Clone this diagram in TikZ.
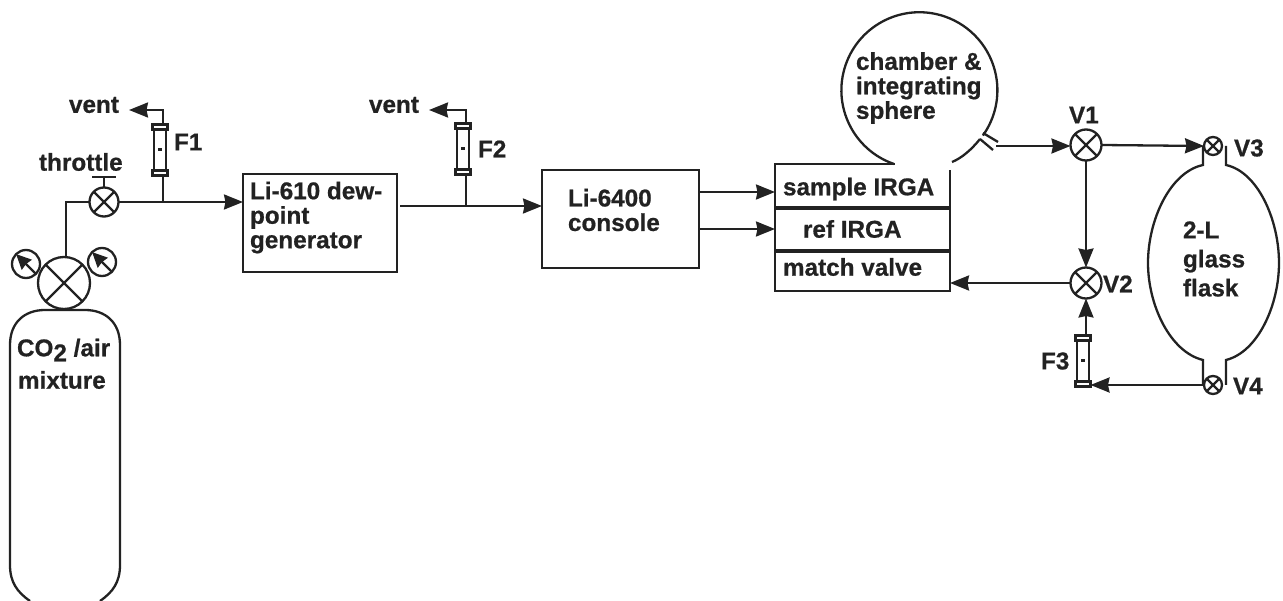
\documentclass[tikz,border=0pt]{standalone}
\usepackage{fontspec}
\setmainfont[BoldFeatures={FakeBold=0.7}]{Liberation Sans}
\usetikzlibrary{arrows.meta,positioning}
\definecolor{ink}{HTML}{222222}
\tikzset{
  x=1pt,y=-1pt,
  line/.style={draw=ink,line width=2.3pt},
  flow/.style={line,-{Stealth[length=19pt,width=15pt,inset=1.5pt]}},
  lab/.style={inner sep=0pt,outer sep=0pt,anchor=west,text=ink,font=\bfseries\fontsize{24.3}{24.5}\selectfont,align=left},
  box/.style={draw=ink,line width=2.3pt,inner sep=0pt,outer sep=0pt,minimum width=#1},
  valve/.style={circle,draw=ink,line width=2.3pt,inner sep=0pt,outer sep=0pt,minimum size=#1,
    path picture={\draw[ink,line width=2.3pt] (path picture bounding box.south west)--(path picture bounding box.north east)
      (path picture bounding box.north west)--(path picture bounding box.south east);}},
  tube/.style={draw=ink,line width=2.3pt,inner sep=0pt,outer sep=0pt,minimum width=12pt,minimum height=48pt},
  capbar/.style={draw=ink,line width=2.3pt,fill=white,inner sep=0pt,outer sep=0pt,minimum width=15pt,minimum height=5pt},
  gauge/.style={circle,draw=ink,line width=2.3pt,inner sep=0pt,outer sep=0pt,minimum size=28pt},
}
\newcommand{\flowmeter}[3]{% name, x, y centre
  \node[tube] (#1) at (#2,#3) {};
  \node[capbar] (#1top) at (#2,#3-23) {};
  \node[capbar] (#1bot) at (#2,#3+23) {};
  \fill[ink] (#2-2,#3-1.5) rectangle (#2+2,#3+1.5);
}
\begin{document}
\begin{tikzpicture}
\useasboundingbox (0,0) rectangle (1283,601);
% cylinder
\draw[line] (30,601) .. controls (17,592) and (10,582) .. (10,565) -- (10,345) .. controls (10,322) and (25,310) .. (45,310) -- (85,310) .. controls (105,310) and (120,322) .. (120,345) -- (120,565) .. controls (120,582) and (113,592) .. (100,601);
\node[lab] (co2) at (17,350) {CO\raisebox{-5pt}{2} /air};
\node[lab] (mix) at (18,380) {mixture};
% regulator
\node[valve=52pt] (reg) at (64,283) {};
\node[gauge] (g1) at (26,264) {};
\node[gauge] (g2) at (102,262) {};
\draw[line,-{Stealth[length=15pt,width=14pt,inset=1pt]}] (g1.south east) -- (g1.north west);
\draw[line,-{Stealth[length=15pt,width=14pt,inset=1pt]}] (g2.south east) -- (g2.north west);
% throttle
\node[valve=29pt] (thr) at (104,202) {};
\coordinate (thrtop) at (104,177);
\draw[line] (thr.north) -- (thrtop);
\draw[line] (92,177) -- (116,177);
\node[lab] (thrl) at (39,162) {throttle};
\coordinate (elbow) at (66,202);
\draw[line] (reg.north -| elbow) -- (elbow) -- (thr.west);
% F1
\flowmeter{Fam}{160}{150}
\node[lab] (F1) at (174,142) {F1};
\node[lab] (vent1) at (69,105) {vent};
\coordinate (j1) at (163,202);
\coordinate (c1) at (163,110);
\coordinate (e1) at (129,110);
\draw[line] (j1) -- (Fambot.south -| j1);
\draw[flow] (Famtop.north -| c1) -- (c1) -- (e1);
% Li-610
\node[box=154pt,minimum height=98pt] (li610) at (320,223) {};
\node[lab] (li610t) at (250,217.5) {Li-610 dew-\\point\\generator};
\draw[flow] (thr.east) -- (li610.west |- thr);
% F2
\flowmeter{Fbm}{463}{149}
\node[lab] (F2) at (478,149) {F2};
\node[lab] (vent2) at (369,105) {vent};
\coordinate (j2) at (466,206);
\coordinate (c2) at (466,110);
\coordinate (e2) at (429,110);
\coordinate (o2) at (400,206);
\draw[line] (j2) -- (Fbmbot.south -| j2);
\draw[flow] (Fbmtop.north -| c2) -- (c2) -- (e2);
% Li-6400
\node[box=157pt,minimum height=98pt] (li64) at (620.5,219) {};
\node[lab] (li64t) at (568,210) {Li-6400\\console};
\draw[flow] (o2) -- (li64.west |- o2);
% stack
\node[box=175pt,minimum height=44pt] (samp) at (862.5,186) {};
\node[box=175pt,minimum height=43pt] (refi) at (862.5,229.5) {};
\node[box=175pt,minimum height=40pt] (mv) at (862.5,271) {};
\node[lab] (sampt) at (783,189) {sample IRGA};
\node[lab] (refit) at (803,229) {ref IRGA};
\node[lab] (mvt) at (783,267) {match valve};
\fill[white] (895,160) rectangle (953,170);
\draw[line] (950,171) -- (950,208);
\draw[ink,line width=3.5pt] (775,208) -- (950,208) (775,251) -- (950,251);
\coordinate (a1) at (699,192);
\coordinate (a2) at (699,229);
\draw[flow] (a1) -- (samp.west |- a1);
\draw[flow] (a2) -- (refi.west |- a2);
% chamber
\draw[line] (894,164) arc[start angle=109,end angle=395.5,radius=78];
\draw[line] (952,162) .. controls (962,158) and (972,149) .. (980,139);
\draw[line] (983,133) -- (998,142);
\draw[line] (980,139) -- (993,150);
\node[lab] (chamt) at (856,88) {chamber \&\\integrating\\sphere};
\coordinate (chout) at (996,146);
% valves
\node[valve=31pt] (V1v) at (1086,145) {};
\node[valve=31pt] (V2v) at (1086,283) {};
\node[valve=18pt] (V3v) at (1213,146) {};
\node[valve=18pt] (V4v) at (1213,385) {};
\node[lab] (V1) at (1069,115) {V1};
\node[lab] (V2) at (1103,284) {V2};
\node[lab] (V3) at (1234,148) {V3};
\node[lab] (V4) at (1233,386) {V4};
\draw[flow] (chout) -- (V1v.west |- chout);
\draw[flow] (V1v.east) -- (V3v.west);
\draw[flow] (V1v.south) -- (V2v.north);
\draw[flow] (V2v.west) -- (950,283);
% flask
\draw[line] (1203,146) -- (1203,165) .. controls (1170,172) and (1148,220) .. (1148,263) .. controls (1148,305) and (1170,352) .. (1203,360) -- (1203,385);
\draw[line] (1226,146) -- (1226,165) .. controls (1258,172) and (1279,220) .. (1279,263) .. controls (1279,305) and (1258,352) .. (1226,360) -- (1226,385);
\node[lab] (flt) at (1183,259) {2-L\\[4.5pt]glass\\[4.5pt]flask};
% F3
\flowmeter{Fcm}{1083}{361}
\node[lab] (F3) at (1041,361) {F3};
\draw[flow] (Fcmtop.north -| V2v) -- (V2v.south);
\draw[flow] (V4v.west) -- (Fcmbot.east |- V4v);
\end{tikzpicture}
\end{document}
